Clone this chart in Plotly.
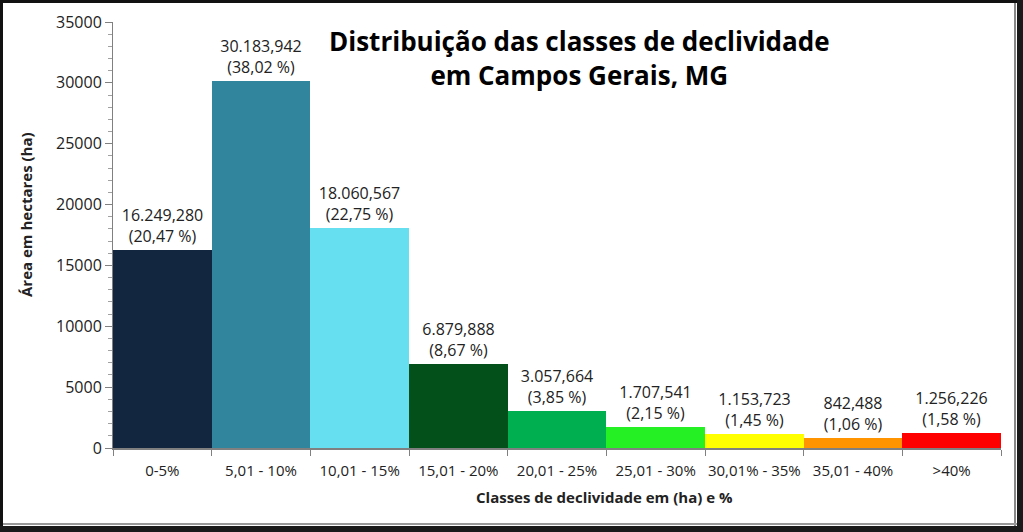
import plotly.graph_objects as go

categories = ["0-5%", "5,01 - 10%", "10,01 - 15%", "15,01 - 20%", "20,01 - 25%",
              "25,01 - 30%", "30,01% - 35%", "35,01 - 40%", ">40%"]
area_ha = [16249.280, 30183.942, 18060.567, 6879.888, 3057.664,
           1707.541, 1153.723, 842.488, 1256.226]
percent = ["20,47", "38,02", "22,75", "8,67", "3,85", "2,15", "1,45", "1,06", "1,58"]
colors = ["#13263f", "#31859c", "#66e0f0", "#03501b", "#00b050",
          "#24f024", "#ffff00", "#ff9300", "#ff0000"]

def fmt(v):
    s = f"{v:,.3f}"
    return s.replace(",", "X").replace(".", ",").replace("X", ".")

labels = [f"{fmt(v)}<br>({p} %)" for v, p in zip(area_ha, percent)]

W, H = 1023, 532
L, R, T, B = 113, 22, 22, 84
PW, PH = W - L - R, H - T - B

def px_x(x):
    return (x - L) / PW

def px_y(y):
    return (H - B - y) / PH

FONT = "Open Sans"
TXT = "#222222"

fig = go.Figure(go.Bar(
    x=categories, y=area_ha,
    marker=dict(color=colors, line=dict(width=0)),
    text=labels, textposition="outside", cliponaxis=False,
    constraintext="none",
    textfont=dict(family=FONT, size=16, color=TXT),
    width=1.0,
))

shapes = [
    dict(type="rect", xref="paper", yref="paper",
         x0=px_x(1.5), x1=px_x(W - 1.5), y0=px_y(1.5), y1=px_y(H - 1.5),
         line=dict(color="#111111", width=3), layer="above"),
    dict(type="rect", xref="paper", yref="paper",
         x0=px_x(W - 6), x1=px_x(W), y0=px_y(0), y1=px_y(H),
         fillcolor="#1a1a1a", line=dict(width=0), layer="above"),
    dict(type="rect", xref="paper", yref="paper",
         x0=px_x(0), x1=px_x(W), y0=px_y(H - 6), y1=px_y(H),
         fillcolor="#1a1a1a", line=dict(width=0), layer="above"),
    dict(type="line", xref="paper", yref="paper",
         x0=px_x(W - 8), x1=px_x(W - 8), y0=px_y(3), y1=px_y(H - 6),
         line=dict(color="#888888", width=2), layer="above"),
    dict(type="line", xref="paper", yref="paper",
         x0=px_x(3), x1=px_x(W - 6), y0=px_y(H - 8), y1=px_y(H - 8),
         line=dict(color="#999999", width=2), layer="above"),
]

annotations = [
    dict(text="<b>Distribuição das classes de declividade<br>em Campos Gerais, MG</b>",
         xref="paper", yref="paper", x=px_x(579), y=px_y(58),
         xanchor="center", yanchor="middle", showarrow=False,
         font=dict(family=FONT, size=26, color="black")),
    dict(text="<b>Classes de declividade em (ha) e %</b>",
         xref="paper", yref="paper", x=px_x(604), y=px_y(497),
         xanchor="center", yanchor="middle", showarrow=False,
         font=dict(family=FONT, size=15, color=TXT)),
    dict(text="<b>Área em hectares (ha)</b>", textangle=-90,
         xref="paper", yref="paper", x=px_x(26), y=px_y(215),
         xanchor="center", yanchor="middle", showarrow=False,
         font=dict(family=FONT, size=15, color=TXT)),
]

fig.update_layout(
    width=W, height=H,
    margin=dict(l=L, r=R, t=T, b=B),
    paper_bgcolor="white", plot_bgcolor="white",
    bargap=0, showlegend=False,
    font=dict(family=FONT, size=15, color=TXT),
    shapes=shapes,
    annotations=annotations,
    xaxis=dict(
        type="category", showgrid=False, showline=True, linecolor="#808080",
        linewidth=2, ticks="outside", tickson="boundaries", ticklen=6,
        tickcolor="#808080", ticklabelstandoff=8, tickangle=0, automargin=False,
        tickfont=dict(family=FONT, size=15, color=TXT),
    ),
    yaxis=dict(
        range=[0, 35000], dtick=5000, tickformat="d", showgrid=False, zeroline=False,
        showline=True, linecolor="#808080", linewidth=1, automargin=False,
        ticks="outside", ticklen=7, tickcolor="#808080",
        tickfont=dict(family=FONT, size=16, color=TXT),
        minor=dict(dtick=1000, ticks="outside", ticklen=4, tickcolor="#a0a0a0"),
    ),
)

fig.write_html("out.html")
